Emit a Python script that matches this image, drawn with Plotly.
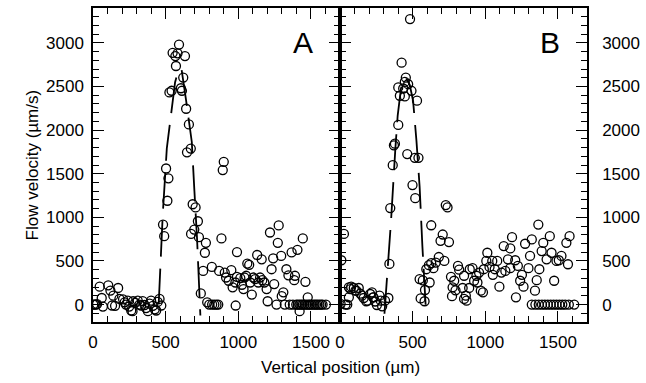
import plotly.graph_objects as go

# ---------------- data ----------------
a_x = [2, 12, 20, 28, 46, 60, 68, 105, 120, 140, 131, 152, 173, 182, 207, 218, 227, 240, 249, 263,
       272, 276, 290, 308, 320, 331, 342, 355, 365, 378, 390, 400, 412, 425, 435, 445, 458, 470,
       482, 490, 503, 512, 519, 526, 541, 548, 567, 571, 582, 592, 605, 612, 621, 633, 641, 647,
       660, 673,
       675, 686, 697, 706, 722, 729, 742, 758, 770, 777, 786, 800, 818, 820, 835, 850, 862, 868,
       884, 893, 900, 907, 916, 934, 952, 961, 980, 982, 991, 991, 1014, 1025, 1036, 1043, 1054,
       1062, 1075, 1082, 1093, 1104, 1116, 1130, 1138, 1150, 1161, 1165, 1179, 1195, 1202, 1218,
       1229, 1240, 1247, 1263, 1272, 1278, 1295, 1299, 1310, 1320, 1331, 1345, 1354, 1367, 1376,
       1385, 1390, 1399, 1407, 1410, 1422, 1422, 1433, 1444, 1444, 1455, 1462, 1467, 1478, 1480,
       1490, 1500, 1513, 1525, 1535, 1546, 1558, 1570, 1580, 1603]
a_y = [0, 0, 0, 5, 205, 75, -23, 220, 160, 102, -11, -15, 190, 65, 60, 26, 0, 45, -23, -68,
       -76, 38, 20, 45, 0, -11, 40, -5, -40, -76, 10, 45, -15, -55, -68, 30, 65, -11,
       917, 784, 1560, 1190, 1447, 2432, 2451, 2886, 2849, 2735, 2880, 2981, 2480, 2451, 2602, 2849, 2245, 1745,
       2065, 1788,
       810, 1150, 860, 1114, 955, 773, 128, 386, 594, 708, 26, 0, 432, 0, 0, 0, 0, 386,
       758, 1542, 1636, 367, 310, 273, 394, 197, 253, -11, 602, 318, 303, 227, 178, 310, 330,
       470, 455, 253, 114, 310, 292, 568, 253, 310, 519, 280, 253, 178, 38, 826,
       405, 530, 235, 0, 708, 907, 557, 96, 140, 0, 405, 335, 0, 598, 0,
       280, 330, 0, 627, 0, -76, 0, 0, 758, 0, 0, 261, 0, 83, 0,
       0, 0, 0, 0, 0, 0, 0, 0, 0, 0]

b_x = [4, 9, 27, 38, 50, 61, 61, 72, 77, 95, 106, 113, 129, 140, 152, 163, 181, 190, 208, 220,
       227, 231, 242, 254, 272, 281, 290, 310, 333,
       340, 346, 363, 371, 378, 401, 401, 412, 424, 435, 446, 446, 453, 463, 469, 482, 492, 499,
       515, 518, 530, 540,
       548, 555, 570, 582, 585, 594, 612, 617, 628, 628, 643, 659, 680, 692, 707, 718, 728, 740,
       750, 764, 771, 775, 786, 795, 812, 820, 844, 854, 854, 866, 871, 889, 893, 912, 923, 939,
       946, 957, 969, 984, 990, 1007, 1014, 1029, 1048, 1052, 1065, 1082, 1097, 1111, 1127, 1138,
       1156, 1172, 1184, 1172, 1206, 1211, 1224, 1240, 1252, 1263, 1274, 1297, 1308, 1320, 1342,
       1354, 1365, 1372, 1388, 1399, 1422, 1444, 1456, 1474, 1490, 1506, 1524, 1558, 1569, 1580,
       1320, 1345, 1368, 1390, 1410, 1430, 1450, 1470, 1490, 1510, 1530, 1550, 1575, 1612]
b_y = [8, 508, 810, 0, 0, 197, 83, 178, 205, 190, 159, 159, 190, 125, 102, 75, 38, 45, 121, 140,
       83, 83, 35, -5, 102, 45, -20, 45, 75,
       466, 1106, 1598, 1826, 1844, 2060, 2489, 2394, 2773, 2477, 2553, 2386, 2602, 1725, 2526, 3273, 2451, 1370,
       1682, 1220, 2337, 1682,
       292, 70, 277, 38, 167, 405, 452, 253, 909, 475, 417, 481, 545, 731, 803, 500, 1140, 1114,
       716, 318, 96, 197, 273, 163, 443, 400, 190, 330, 65, 102, 45, 190, 405, 417, 273, 330,
       253, 367, 159, 140, 405, 500, 594, 432, 500, 341, 405, 500, 205, 367, 670, 386,
       519, 644, 773, 417, 508, 83, 443, 273, 341, 205, 697, 417, 557, 747, 159,
       280, 917, 405, 613, 708, 519, 784, 594, 273, 500, 508, 557, 708, 462, 784,
       0, 0, 0, 0, 0, 0, 0, 0, 0, 0, 0, 0, 0, 0]

# profile lines
a_fit_x = [452, 480, 508, 541, 565, 590, 610, 640, 662, 680, 698, 716, 739]
a_fit_y = [0, 1030, 1790, 2250, 2550, 2700, 2690, 2350, 2053, 1864, 1300, 760, -125]
b_fit_x = [306, 326, 351, 381, 397, 420, 450, 480, 503, 526, 548, 567, 590]
b_fit_y = [-106, 330, 955, 1788, 2167, 2480, 2610, 2520, 2337, 1883, 1352, 670, -20]

x_ticks = [0, 500, 1000, 1500]
y_ticks = [0, 500, 1000, 1500, 2000, 2500, 3000]
x_minor = list(range(0, 1701, 100))
y_minor = list(range(-200, 3401, 100))
panel_labels = ["A", "B"]

FONT = "Liberation Sans, Arial, Helvetica, sans-serif"

fig = go.Figure()
line_style = dict(color="black", width=1.8, dash="36px,12px")
marker_style = dict(symbol="circle-open", size=9, color="black", line=dict(width=1.3, color="black"))

fig.add_trace(go.Scatter(x=a_fit_x, y=a_fit_y, mode="lines", line=line_style, xaxis="x", yaxis="y",
                         showlegend=False, hoverinfo="skip"))
fig.add_trace(go.Scatter(x=a_x, y=a_y, mode="markers", marker=marker_style, xaxis="x", yaxis="y",
                         showlegend=False))
fig.add_trace(go.Scatter(x=b_fit_x, y=b_fit_y, mode="lines", line=line_style, xaxis="x2", yaxis="y2",
                         showlegend=False, hoverinfo="skip"))
fig.add_trace(go.Scatter(x=b_x, y=b_y, mode="markers", marker=marker_style, xaxis="x2", yaxis="y2",
                         showlegend=False))

tickfont = dict(size=17, color="black", family=FONT)
common_x = dict(range=[0, 1700], tickmode="array", tickvals=x_ticks, ticktext=[str(t) for t in x_ticks],
                ticks="inside", ticklen=11, tickwidth=1.3, tickcolor="black",
                showline=True, linecolor="black", linewidth=1.5, mirror="ticks",
                showgrid=False, zeroline=False, tickfont=tickfont, ticklabelstandoff=4,
                minor=dict(tickmode="array", tickvals=x_minor, ticks="inside", ticklen=6,
                           tickwidth=1.1, tickcolor="black", showgrid=False))
common_y = dict(range=[-200, 3400], tickmode="array", tickvals=y_ticks, ticktext=[str(t) for t in y_ticks],
                ticks="inside", ticklen=11, tickwidth=1.3, tickcolor="black",
                showline=True, linecolor="black", linewidth=1.5, mirror="ticks",
                showgrid=False, zeroline=False, tickfont=tickfont,
                minor=dict(tickmode="array", tickvals=y_minor, ticks="inside", ticklen=6,
                           tickwidth=1.1, tickcolor="black", showgrid=False))

fig.update_layout(
    width=646, height=383,
    margin=dict(l=93, r=53, t=6, b=61),
    paper_bgcolor="white", plot_bgcolor="white",
    font=dict(family=FONT, color="black"),
    xaxis=dict(domain=[0, 0.5], anchor="y", **common_x),
    xaxis2=dict(domain=[0.5, 1], anchor="y2", **common_x),
    yaxis=dict(anchor="x", side="left", ticklabelstandoff=4, **common_y),
    yaxis2=dict(anchor="x2", side="right", matches="y", ticklabelstandoff=10, **common_y),
    annotations=[
        dict(text=panel_labels[0], x=1445, y=3010, xref="x", yref="y", showarrow=False,
             font=dict(size=30, color="black", family=FONT)),
        dict(text=panel_labels[1], x=1445, y=3010, xref="x2", yref="y2", showarrow=False,
             font=dict(size=30, color="black", family=FONT)),
        dict(text="Flow velocity (µm/s)", x=-0.146, y=0.5, xref="paper", yref="paper",
             textangle=-90, showarrow=False, font=dict(size=17, color="black", family=FONT)),
        dict(text="Vertical position (µm)", x=0.5, y=-0.1456, xref="paper", yref="paper",
             yanchor="middle", showarrow=False, font=dict(size=17, color="black", family=FONT)),
    ],
)

fig.write_html("out.html")
